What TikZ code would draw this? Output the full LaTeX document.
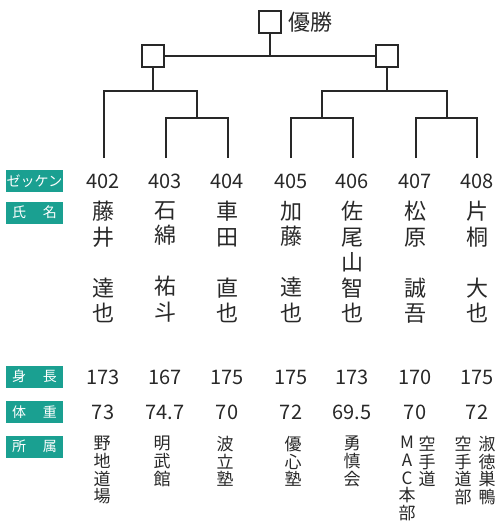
\documentclass[tikz,border=0pt]{standalone}
\usepackage{fontspec}
\setmainfont{Noto Sans CJK JP}
\usetikzlibrary{positioning}
\definecolor{midori}{RGB}{26,160,145}
\definecolor{sumi}{RGB}{40,40,40}
\tikzset{
  waku/.style={draw=sumi, line width=1.6pt, minimum size=22pt, inner sep=0pt},
  sen/.style={draw=sumi, line width=1.6pt},
  midashi/.style={fill=midori, text=white, minimum width=57pt, minimum height=22pt, inner sep=0pt, font=\fontsize{14}{14}\selectfont},
  bango/.style={text=sumi, inner sep=0pt, font=\fontsize{20}{20}\selectfont},
  shimei/.style={text=sumi, align=center, anchor=north, inner sep=0pt, font=\fontsize{22}{25.5}\selectfont},
  shozoku/.style={text=sumi, align=center, anchor=north, inner sep=0pt, font=\fontsize{17}{17.7}\selectfont}
}
\begin{document}
\begin{tikzpicture}[x=1pt,y=-1pt]
  \useasboundingbox (0,0) rectangle (497,523);
  % tournament
  \node[waku] (yusho) at (270,22) {};
  \node[right=6pt of yusho, text=sumi, inner sep=0pt, font=\fontsize{22}{22}\selectfont] (yushoL) {優勝};
  \node[waku] (semiL) at (153,56) {};
  \node[waku] (semiR) at (387,56) {};
  \coordinate (k402) at (104,158);
  \coordinate (k403) at (166,158);
  \coordinate (k404) at (228,158);
  \coordinate (k405) at (291,158);
  \coordinate (k406) at (353,158);
  \coordinate (k407) at (416,158);
  \coordinate (k408) at (477,158);
  \coordinate (q1) at (197,118);
  \coordinate (q2) at (322,118);
  \coordinate (q3) at (447,118);
  \coordinate (h1) at (153,91);
  \coordinate (h2) at (387,91);
  \draw[sen] (k403) |- (q1) -| (k404);
  \draw[sen] (k402) |- (h1) -| (q1);
  \draw[sen] (k405) |- (q2) -| (k406);
  \draw[sen] (k407) |- (q3) -| (k408);
  \draw[sen] (q2) |- (h2) -| (q3);
  \draw[sen] (h1) -- (semiL);
  \draw[sen] (h2) -- (semiR);
  \draw[sen] (semiL) -- (semiR);
  \draw[sen] (yusho) -- (yusho |- semiL);
  % row labels
  \node[midashi] (lZekken) at (34.5,181) {ゼッケン};
  \node[midashi] (lShimei) at (34.5,212.5) {氏\hspace{1.2em}名};
  \node[midashi] (lShincho) at (34.5,376.5) {身\hspace{1.2em}長};
  \node[midashi] (lTaiju) at (34.5,412) {体\hspace{1.2em}重};
  \node[midashi] (lShozoku) at (34.5,446.5) {所\hspace{1.2em}属};
  % numbers
  \node[bango] (n402) at (103,181) {402};
  \node[bango] (n403) at (165,181) {403};
  \node[bango] (n404) at (227,181) {404};
  \node[bango] (n405) at (291,181) {405};
  \node[bango] (n406) at (352,181) {406};
  \node[bango] (n407) at (415,181) {407};
  \node[bango] (n408) at (477,181) {408};
  % names
  \node[shimei] (s402) at (103,201) {藤\\井\\\mbox{}\\達\\也};
  \node[shimei] (s403) at (165,201) {石\\綿\\\mbox{}\\祐\\斗};
  \node[shimei] (s404) at (227,201) {車\\田\\\mbox{}\\直\\也};
  \node[shimei] (s405) at (291,201) {加\\藤\\\mbox{}\\達\\也};
  \node[shimei] (s406) at (352,201) {佐\\尾\\山\\智\\也};
  \node[shimei] (s407) at (415,201) {松\\原\\\mbox{}\\誠\\吾};
  \node[shimei] (s408) at (477,201) {片\\桐\\\mbox{}\\大\\也};
  % height
  \node[bango] (c402) at (103,377) {173};
  \node[bango] (c403) at (165,377) {167};
  \node[bango] (c404) at (227,377) {175};
  \node[bango] (c405) at (291,377) {175};
  \node[bango] (c406) at (352,377) {173};
  \node[bango] (c407) at (415,377) {170};
  \node[bango] (c408) at (477,377) {175};
  % weight
  \node[bango] (w402) at (103,412) {73};
  \node[bango] (w403) at (165,412) {74.7};
  \node[bango] (w404) at (227,412) {70};
  \node[bango] (w405) at (291,412) {72};
  \node[bango] (w406) at (352,412) {69.5};
  \node[bango] (w407) at (415,412) {70};
  \node[bango] (w408) at (477,412) {72};
  % dojo
  \node[shozoku] (a402) at (102,436) {野\\地\\道\\場};
  \node[shozoku] (a403) at (162,436) {明\\武\\館};
  \node[shozoku] (a404) at (225,436) {波\\立\\塾};
  \node[shozoku] (a405) at (293,436) {優\\心\\塾};
  \node[shozoku] (a406) at (352,436) {勇\\慎\\会};
  \node[shozoku] (a407a) at (427,436) {空\\手\\道};
  \node[shozoku] (a407b) at (407,436) {M\\A\\C\\本\\部};
  \node[shozoku] (a408a) at (487,436) {淑\\徳\\巣\\鴨};
  \node[shozoku] (a408b) at (463,436) {空\\手\\道\\部};
\end{tikzpicture}
\end{document}
